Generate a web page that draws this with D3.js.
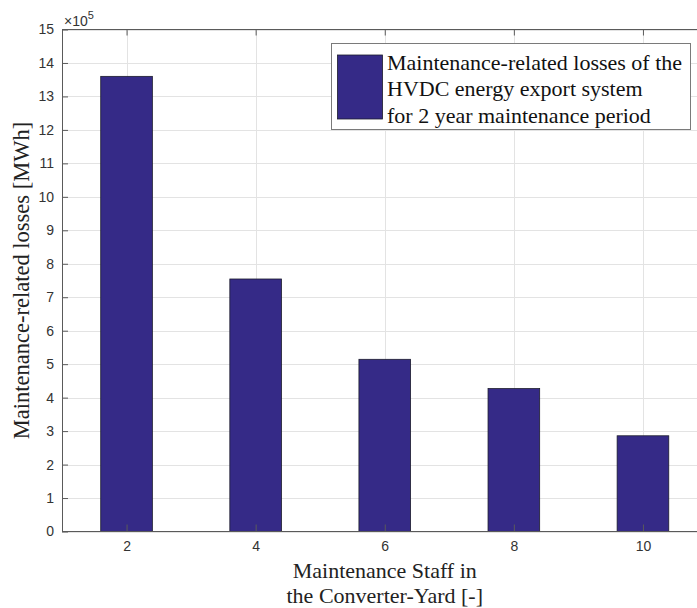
<!DOCTYPE html>
<html>
<head>
<meta charset="utf-8">
<script src="https://cdn.jsdelivr.net/npm/d3@7"></script>
<style>
  html, body { margin: 0; padding: 0; background: #fff; }
  svg { display: block; }
</style>
</head>
<body>
<svg id="chart" width="697" height="608"></svg>
<script>
// Maintenance staff counts and the corresponding losses [MWh]
const staff = [2, 4, 6, 8, 10];
const losses = [13.6e5, 7.545e5, 5.145e5, 4.27e5, 2.86e5];
const yTicks = [0, 1, 2, 3, 4, 5, 6, 7, 8, 9, 10, 11, 12, 13, 14, 15];
const xTicks = [2, 4, 6, 8, 10];
const legendLines = [
  "Maintenance-related losses of the",
  "HVDC energy export system",
  "for 2 year maintenance period"
];
const yLabel = "Maintenance-related losses [MWh]";
const xLabelLines = ["Maintenance Staff in", "the Converter-Yard [-]"];
const scaleExp = 5;

const plot = { left: 62, right: 707.5, top: 29.5, bottom: 531.5 };
const barColor = "#352a87";
const serif = "'Liberation Serif', 'Times New Roman', serif";
const sans = "'Liberation Sans', Arial, Helvetica, sans-serif";

const svg = d3.select("#chart");

const x = d3.scaleLinear().domain([1, 11]).range([plot.left, plot.right]);
const y = d3.scaleLinear().domain([0, 15]).range([plot.bottom, plot.top]);
const unit = Math.pow(10, scaleExp);
const barW = (x(1) - x(0)) * 0.8;

// grid
const grid = svg.append("g").attr("stroke", "#e3e3e3").attr("stroke-width", 1);
grid.selectAll("line.h").data(yTicks).join("line").attr("class", "h")
  .attr("x1", plot.left).attr("x2", plot.right)
  .attr("y1", d => Math.round(y(d)) + 0.5).attr("y2", d => Math.round(y(d)) + 0.5);
grid.selectAll("line.v").data(xTicks).join("line").attr("class", "v")
  .attr("y1", plot.top).attr("y2", plot.bottom)
  .attr("x1", d => Math.round(x(d)) + 0.5).attr("x2", d => Math.round(x(d)) + 0.5);

// bars
svg.append("g").selectAll("rect").data(staff).join("rect")
  .attr("x", (d) => x(d) - barW / 2)
  .attr("width", barW)
  .attr("y", (d, i) => y(losses[i] / unit))
  .attr("height", (d, i) => y(0) - y(losses[i] / unit))
  .attr("fill", barColor)
  .attr("stroke", "#1c1c2c")
  .attr("stroke-width", 0.8);

// axes
const axisColor = "#5a5a5a";
const tickText = "#333";

const axLeft = svg.append("g").attr("transform", `translate(${plot.left},0)`)
  .call(d3.axisLeft(y).tickValues(yTicks).tickSize(-6).tickPadding(8).tickFormat(d3.format("d")));
const axBottom = svg.append("g").attr("transform", `translate(0,${plot.bottom})`)
  .call(d3.axisBottom(x).tickValues(xTicks).tickSize(-7).tickPadding(10).tickFormat(d3.format("d")));
const axTop = svg.append("g").attr("transform", `translate(0,${plot.top})`)
  .call(d3.axisTop(x).tickValues(xTicks).tickSize(-6).tickFormat(""));

[axLeft, axBottom, axTop].forEach(g => {
  g.select(".domain").remove();
  g.selectAll(".tick line").attr("stroke", axisColor).attr("stroke-width", 1);
  g.selectAll(".tick text").attr("fill", tickText)
    .style("font-family", sans).style("font-size", "14px");
});

// axes box
svg.append("rect")
  .attr("x", plot.left + 0.5).attr("y", plot.top)
  .attr("width", plot.right - plot.left).attr("height", plot.bottom - plot.top)
  .attr("fill", "none").attr("stroke", axisColor).attr("stroke-width", 1);

// exponent label
const ex = svg.append("text")
  .attr("x", plot.left + 2).attr("y", 26)
  .attr("fill", tickText)
  .style("font-family", sans).style("font-size", "14px");
ex.append("tspan").text("\u00d710");
ex.append("tspan").attr("dy", -7).style("font-size", "11px").text(scaleExp);

// y label
svg.append("text")
  .attr("transform", `translate(29,${(plot.top + plot.bottom) / 2}) rotate(-90)`)
  .attr("text-anchor", "middle")
  .attr("fill", "#222")
  .style("font-family", serif).style("font-size", "22.5px")
  .text(yLabel);

// x label
const xl = svg.append("text")
  .attr("text-anchor", "middle")
  .attr("fill", "#222")
  .style("font-family", serif).style("font-size", "22px");
xLabelLines.forEach((t, i) => {
  xl.append("tspan").attr("x", (plot.left + plot.right) / 2).attr("y", 578 + i * 25).text(t);
});

// legend
const lg = svg.append("g");
lg.append("rect")
  .attr("x", 331.5).attr("y", 43.5).attr("width", 359).attr("height", 86)
  .attr("fill", "#fff").attr("stroke", "#7a7a7a").attr("stroke-width", 1);
lg.append("rect")
  .attr("x", 337.5).attr("y", 55).attr("width", 45).attr("height", 64)
  .attr("fill", barColor).attr("stroke", "#1c1c2c").attr("stroke-width", 0.8);
lg.selectAll("text").data(legendLines).join("text")
  .attr("x", 387).attr("y", (d, i) => 70 + i * 26.3)
  .attr("fill", "#111")
  .style("font-family", serif).style("font-size", "22px")
  .text(d => d);
</script>
</body>
</html>
